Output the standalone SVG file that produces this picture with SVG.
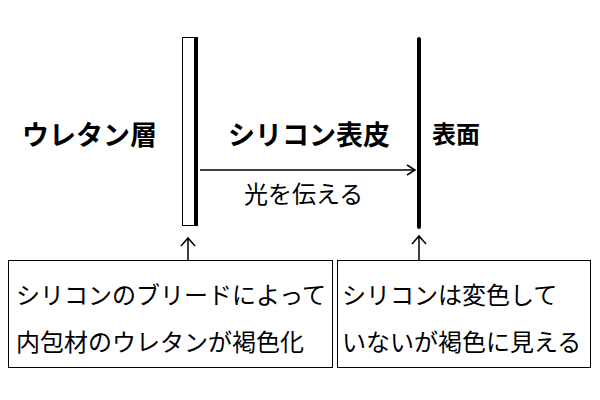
<svg xmlns="http://www.w3.org/2000/svg" width="600" height="400" viewBox="0 0 600 400">
<style>
text{font-family:"Noto Sans CJK JP",sans-serif;fill:#000}
.b{font-weight:bold;font-size:27px}
.n{font-size:24px}
.box{fill:#fff;stroke:#000;stroke-width:1}
.up{stroke:#000;stroke-width:1.5;fill:none}
</style>
<defs><marker id="ah" markerWidth="12" markerHeight="12" refX="10" refY="6" orient="auto" markerUnits="userSpaceOnUse"><path d="M2,1 L10,6 L2,11" fill="none" stroke="#000" stroke-width="1.5"/></marker></defs>
<rect width="600" height="400" fill="#fff"/>
<g id="urethane"><rect x="182.5" y="37.5" width="12" height="188" fill="#fff" stroke="#000"/><line x1="196" y1="37" x2="196" y2="226" stroke="#000" stroke-width="4"/><text class="b" x="22" y="145">ウレタン層</text></g>
<g id="surface"><line x1="419" y1="39" x2="419" y2="227" stroke="#000" stroke-width="4" stroke-linecap="round"/><text class="b" x="432" y="143" style="font-size:24px">表面</text></g>
<text class="b" x="228" y="145">シリコン表皮</text>
<g id="connectors"><line x1="200" y1="170" x2="415" y2="170" stroke="#000" stroke-width="1.5" marker-end="url(#ah)"/>
<path class="up" d="M188,265 V238 M181,246 L188,238 L195,246"/>
<path class="up" d="M419,263 V236 M412,244 L419,236 L426,244"/></g>
<text class="n" x="244" y="203">光を伝える</text>
<g id="note1"><rect class="box" x="8.5" y="260.5" width="324" height="107"/><text class="n" x="16" y="304">シリコンのブリードによって</text><text class="n" x="16" y="351">内包材のウレタンが褐色化</text></g>
<g id="note2"><rect class="box" x="337.5" y="260.5" width="253" height="107"/><text class="n" x="342" y="304">シリコンは変色して</text><text class="n" x="342" y="351">いないが褐色に見える</text></g>
</svg>
